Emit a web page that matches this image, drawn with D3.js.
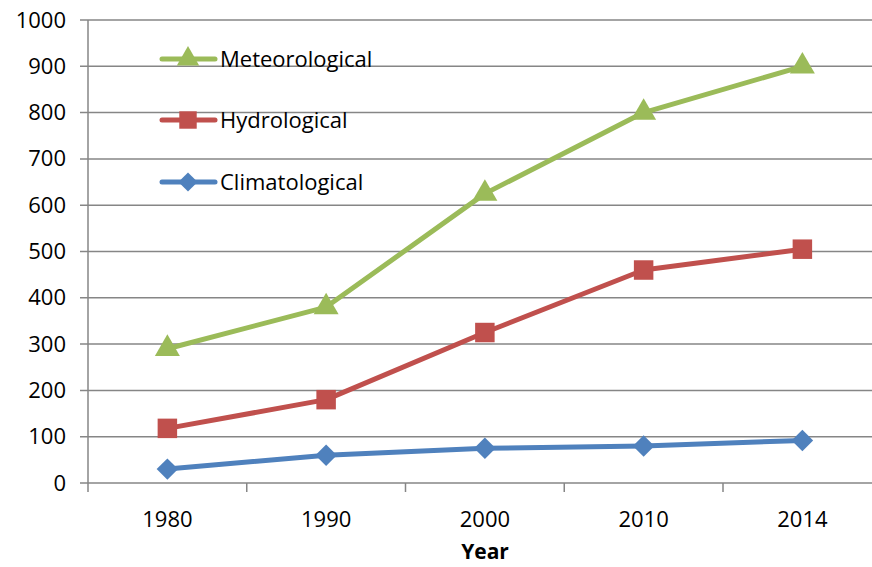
<!DOCTYPE html>
<html><head><meta charset="utf-8">
<script src="https://cdn.jsdelivr.net/npm/d3@7"></script>
<style>html,body{margin:0;padding:0;background:#fff;overflow:hidden}</style>
</head><body>
<svg id="c" width="872" height="567"></svg>
<script>
const years = ["1980","1990","2000","2010","2014"];
const meteorological = [290, 380, 625, 800, 900];
const hydrological = [118, 180, 325, 460, 505];
const climatological = [30, 60, 75, 80, 92];
const yTicks = [0,100,200,300,400,500,600,700,800,900,1000];
const seriesNames = ["Meteorological","Hydrological","Climatological"];

const svg = d3.select("#c");
const font = "'Open Sans', sans-serif";
const fs = 22;
const x = d3.scaleBand().domain(years).range([88, 881.75]).paddingInner(0).paddingOuter(0);
const y = d3.scaleLinear().domain([0,1000]).range([483, 20]);
const grid = "#868686";

svg.append("g").selectAll("line").data(yTicks).join("line")
  .attr("x1", 80).attr("x2", 872)
  .attr("y1", d=>y(d)).attr("y2", d=>y(d))
  .attr("stroke", grid).attr("stroke-width", 1.5);

const yAx = svg.append("g").attr("transform","translate(88,0)")
  .call(d3.axisLeft(y).tickValues(yTicks).tickFormat(d3.format("d")).tickSize(0).tickPadding(22));
yAx.select(".domain").attr("stroke", grid).attr("stroke-width",1.5).attr("d","M0,20V492");
yAx.selectAll("text").attr("font-family",font).attr("font-size",fs).attr("fill","#000");

const xAx = svg.append("g").attr("transform","translate(0,483)")
  .call(d3.axisBottom(x).tickSize(0).tickPadding(28));
xAx.select(".domain").remove();
xAx.selectAll("text").attr("font-family",font).attr("font-size",fs).attr("fill","#000");
const bounds = years.slice(1).map(d=>x(d)).concat([x(years[years.length-1])+x.bandwidth()]);
svg.append("g").selectAll("line").data(bounds).join("line")
  .attr("x1", d=>d).attr("x2", d=>d).attr("y1",483).attr("y2",492)
  .attr("stroke", grid).attr("stroke-width",1.5);

svg.append("text").attr("x", 485).attr("y", 559).attr("text-anchor","middle")
  .attr("font-family",font).attr("font-size",21).attr("font-weight","bold").text("Year");

const series = [
  {name: seriesNames[0], values: meteorological, color:"#9BBB59", sym: d3.symbolTriangle, size: 270, rot: 0},
  {name: seriesNames[1], values: hydrological, color:"#C0504D", sym: d3.symbolSquare, size: 380, rot: 0},
  {name: seriesNames[2], values: climatological, color:"#4F81BD", sym: d3.symbolSquare, size: 230, rot: 45},
];
const cx = d => x(d) + x.bandwidth()/2;
const line = d3.line().x((d,i)=>cx(years[i])).y(d=>y(d));

series.forEach(s=>{
  svg.append("path").attr("d", line(s.values)).attr("fill","none")
    .attr("stroke", s.color).attr("stroke-width",5).attr("stroke-linejoin","round").attr("stroke-linecap","round");
  svg.append("g").selectAll("path").data(s.values).join("path")
    .attr("transform",(d,i)=>`translate(${cx(years[i])},${y(d)}) rotate(${s.rot})`)
    .attr("d", d3.symbol().type(s.sym).size(s.size)).attr("fill", s.color);
});

const legY = [59, 120, 182];
series.forEach((s,i)=>{
  const g = svg.append("g").attr("transform",`translate(0,${legY[i]})`);
  g.append("line").attr("x1",162).attr("x2",215).attr("y1",0).attr("y2",0)
    .attr("stroke", s.color).attr("stroke-width",5).attr("stroke-linecap","round");
  g.append("path").attr("transform",`translate(188,0) rotate(${s.rot})`)
    .attr("d", d3.symbol().type(s.sym).size(s.size*0.8)).attr("fill", s.color);
  g.append("text").attr("x",220).attr("y",0).attr("dy","0.35em")
    .attr("font-family",font).attr("font-size",fs).attr("fill","#000").text(s.name);
});
</script>
</body></html>
